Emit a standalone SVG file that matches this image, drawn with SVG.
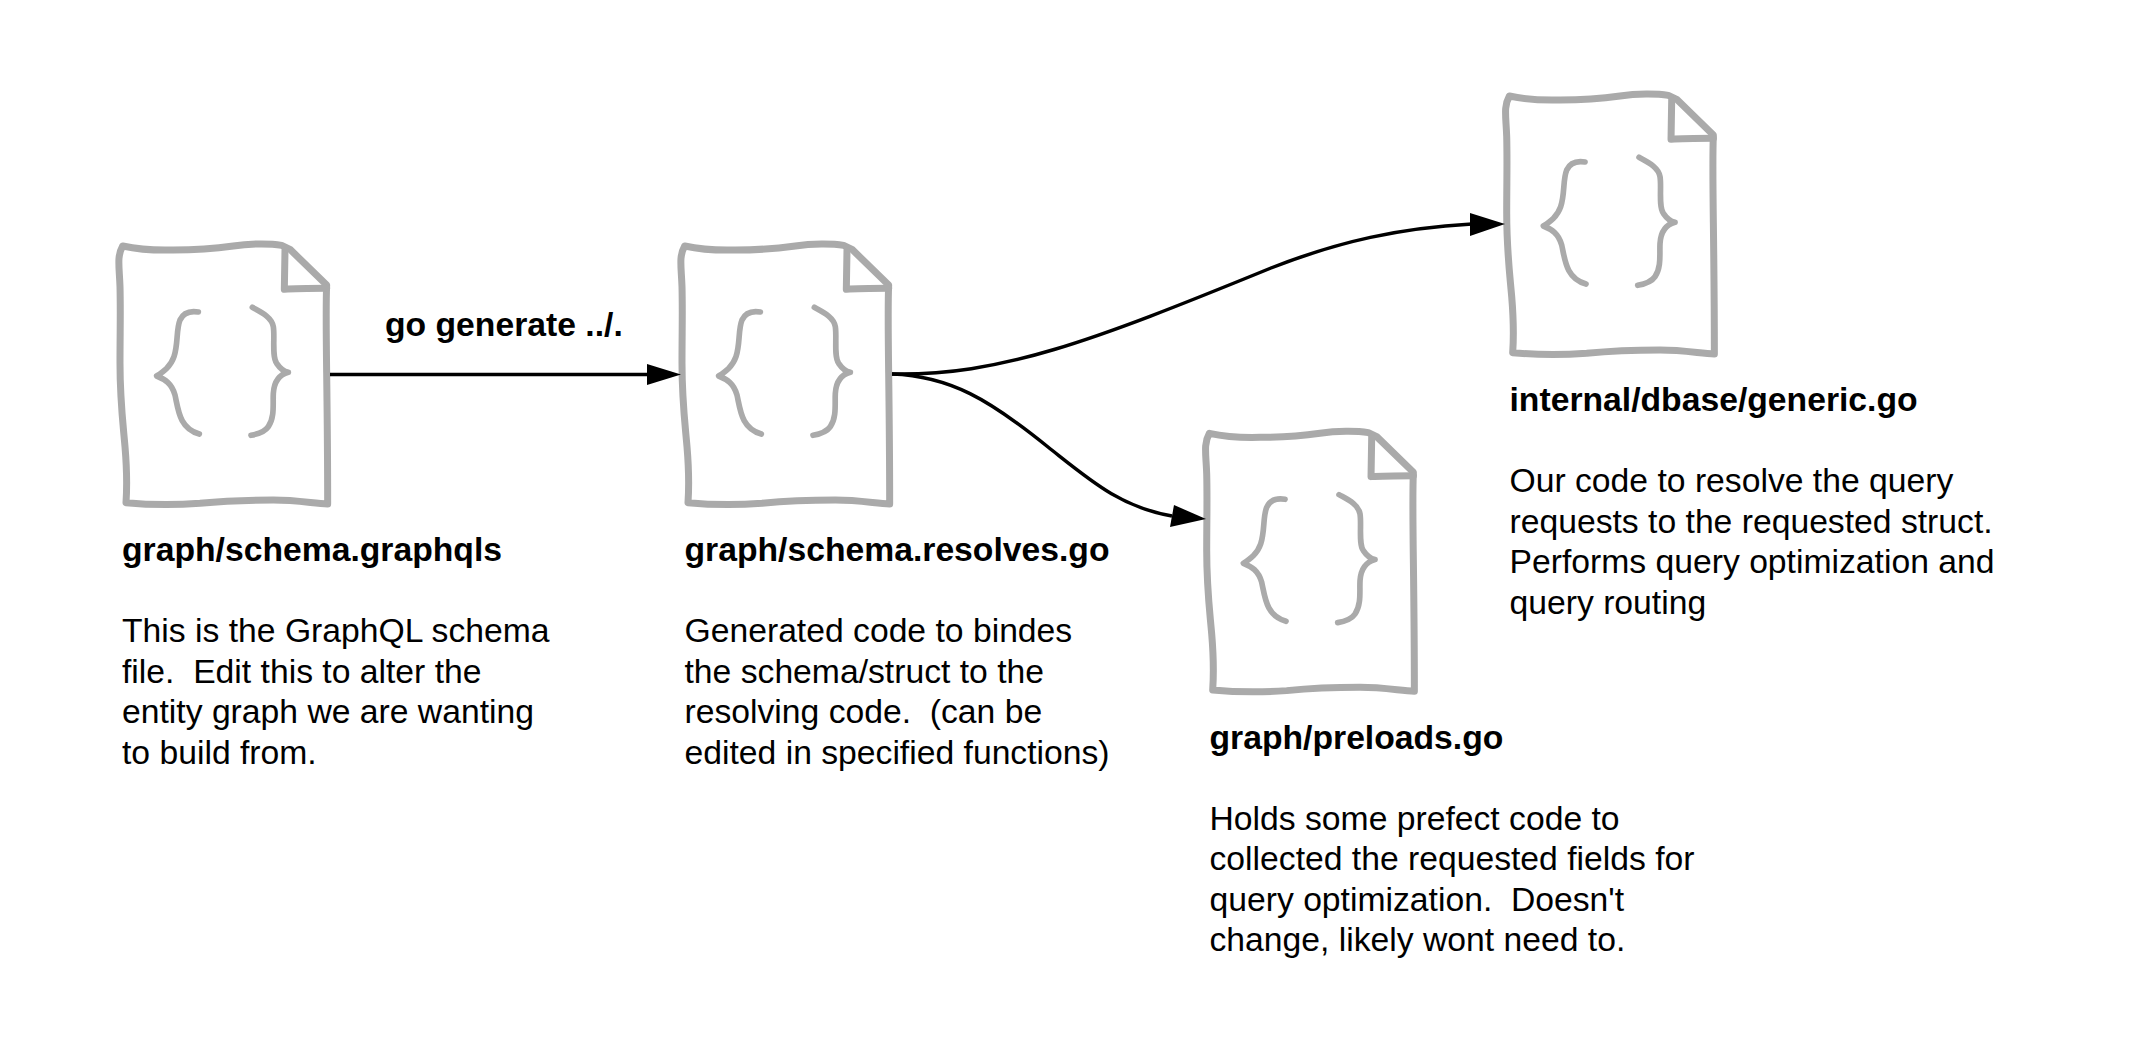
<svg xmlns="http://www.w3.org/2000/svg" xmlns:xlink="http://www.w3.org/1999/xlink" width="2138" height="1050" viewBox="0 0 2138 1050">
<style>
text{font-family:"Liberation Sans",Arial,sans-serif;font-size:33.7px;fill:#000;white-space:pre}
.b{font-weight:bold}
.doc{fill:none;stroke:#aaa;stroke-width:21;stroke-linecap:round;stroke-linejoin:round}
.brace{stroke-width:17}
.conn{fill:none;stroke:#000;stroke-width:3.5}
</style>
<defs>
<g id="doc" class="doc" transform="translate(100 220) scale(.33333)">
<path fill="#fff" d="M68,78 C100,85 150,92 220,90 C290,90 350,85 400,78 C450,70 510,70 545,76 L570,88 L680,195 C675,300 683,500 683,852 C640,850 590,840 520,840 C440,840 350,845 300,850 C230,855 150,855 78,848 C82,790 80,740 75,680 C68,600 60,540 60,430 C60,330 62,280 60,200 C58,140 50,110 68,78Z"/>
<path d="M555,90 L553,208 C590,205 630,205 680,205"/>
<path class="brace" d="M295,276 C270,272 250,278 240,300 C228,330 235,370 222,410 C212,440 190,455 170,468 C195,478 215,490 225,525 C235,570 238,625 298,642"/>
<path class="brace" d="M457,262 C480,275 515,290 520,320 C525,350 515,410 530,430 C540,445 555,455 565,457 C535,465 522,490 520,520 C518,550 525,590 505,620 C495,635 475,642 453,646"/>
</g>
</defs>
<rect width="2138" height="1050" fill="#fff"/>
<g id="node-schema">
<use href="#doc"/>
<text class="b" x="122" y="561">graph/schema.graphqls</text>
<text x="122" y="642">This is the GraphQL schema</text>
<text x="122" y="682.5">file.  Edit this to alter the</text>
<text x="122" y="723">entity graph we are wanting</text>
<text x="122" y="764">to build from.</text>
</g>
<g id="node-resolves">
<use href="#doc" transform="translate(562 0)"/>
<text class="b" x="684.5" y="561">graph/schema.resolves.go</text>
<text x="684.5" y="642">Generated code to bindes</text>
<text x="684.5" y="682.5">the schema/struct to the</text>
<text x="684.5" y="723">resolving code.  (can be</text>
<text x="684.5" y="764">edited in specified functions)</text>
</g>
<g id="node-generic">
<use href="#doc" transform="translate(1386.7 -150)"/>
<text class="b" x="1509.5" y="411">internal/dbase/generic.go</text>
<text x="1509.5" y="492">Our code to resolve the query</text>
<text x="1509.5" y="532.5">requests to the requested struct.</text>
<text x="1509.5" y="573">Performs query optimization and</text>
<text x="1509.5" y="614">query routing</text>
</g>
<g id="node-preloads">
<use href="#doc" transform="translate(1086.7 187.3)"/>
<text class="b" x="1209.5" y="749">graph/preloads.go</text>
<text x="1209.5" y="829.5">Holds some prefect code to</text>
<text x="1209.5" y="870">collected the requested fields for</text>
<text x="1209.5" y="910.5">query optimization.  Doesn't</text>
<text x="1209.5" y="951">change, likely wont need to.</text>
</g>
<g id="connectors">
<path class="conn" d="M330,374.5 H650"/>
<path d="M681,374.5 L647,364 V385Z"/>
<path class="conn" d="M892,374 C1000,376 1090,342 1271,268 C1340,241 1400,228 1472,224"/>
<path d="M1505,224 L1470,213 L1470,236Z"/>
<path class="conn" d="M892,374 C950,376 990,400 1048,447 C1090,480 1120,507 1172,516"/>
<path d="M1206,519 L1174,505 L1170,527Z"/>
<text class="b" x="385" y="336">go generate ../.</text>
</g>
</svg>
